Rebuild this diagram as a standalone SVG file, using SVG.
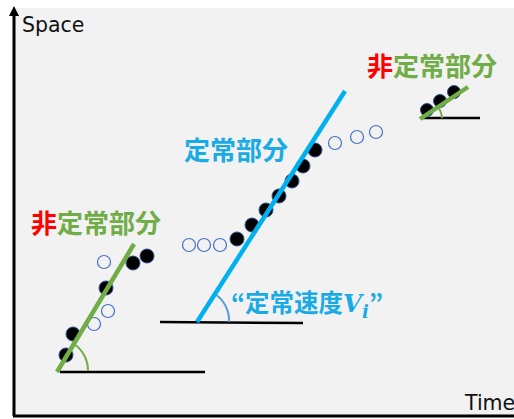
<svg xmlns="http://www.w3.org/2000/svg" width="514" height="419" viewBox="0 0 514 419">
<style>
.lbl{font-family:"Noto Sans CJK JP","Noto Sans",sans-serif;font-weight:bold;font-size:26px}
.ax{font-family:"DejaVu Sans",Verdana,sans-serif;font-size:20.5px;fill:#111}
.g{fill:#70ad47}.r{fill:#ff0000}.b{fill:#1aabe6}
.dot{fill:#000;stroke:#2f528f;stroke-width:1}
.open{fill:none;stroke:#4472c4;stroke-width:1.2}
.base{stroke:#000;stroke-width:2.5}
</style>
<rect x="15" y="8" width="499" height="407" fill="#f2f2f2"/>
<g id="axes">
<line x1="14" y1="416" x2="14" y2="14" stroke="#000" stroke-width="3"/>
<path d="M9,16 L14,6 L19,16 Z" fill="#000"/>
<line x1="13" y1="416" x2="514" y2="416" stroke="#000" stroke-width="3"/>
<text class="ax" x="22" y="32">Space</text>
<text class="ax" x="465" y="410">Time</text>
</g>
<g id="left">
<text class="lbl" x="31" y="233"><tspan class="r">非</tspan><tspan class="g">定常部分</tspan></text>
<line class="base" x1="60" y1="372" x2="205" y2="372"/>
<path d="M74,344 A32,32 0 0 1 88,371" fill="none" stroke="#70ad47" stroke-width="2"/>
<circle class="open" cx="104" cy="262" r="6.5"/>
<circle class="open" cx="94" cy="324" r="6.5"/>
<circle class="open" cx="108" cy="311" r="6.5"/>
<circle class="dot" cx="66" cy="355" r="7"/>
<circle class="dot" cx="73" cy="334" r="7"/>
<circle class="dot" cx="106" cy="288" r="7"/>
<circle class="dot" cx="133" cy="263" r="7"/>
<circle class="dot" cx="147" cy="256" r="7"/>
<line x1="57" y1="372" x2="134" y2="244" stroke="#70ad47" stroke-width="4.5"/>
</g>
<g id="middle">
<text class="lbl b" x="184" y="160">定常部分</text>
<line class="base" x1="160" y1="322" x2="303" y2="323"/>
<path d="M215,294 A32,32 0 0 1 229,322" fill="none" stroke="#5b9bd5" stroke-width="2"/>
<circle class="open" cx="189" cy="245" r="6.5"/>
<circle class="open" cx="204" cy="245" r="6.5"/>
<circle class="open" cx="220" cy="245" r="6.5"/>
<circle class="open" cx="335" cy="143" r="6.5"/>
<circle class="open" cx="357" cy="137" r="6.5"/>
<circle class="open" cx="376" cy="132" r="6.5"/>
<circle class="dot" cx="237" cy="239" r="7"/>
<circle class="dot" cx="252" cy="225" r="7"/>
<circle class="dot" cx="266" cy="210" r="7"/>
<circle class="dot" cx="279" cy="196" r="7"/>
<circle class="dot" cx="292" cy="181" r="7"/>
<circle class="dot" cx="303" cy="166" r="7"/>
<circle class="dot" cx="315" cy="150" r="7"/>
<line x1="197" y1="322" x2="345" y2="91" stroke="#00b0f0" stroke-width="4.5"/>
<text class="b" x="231" y="312" style="font-family:'Noto Sans CJK JP',sans-serif;font-weight:bold;font-size:24.5px">“定常速度<tspan style="font-family:'DejaVu Serif',serif;font-style:italic">V</tspan><tspan style="font-family:'DejaVu Serif',serif;font-style:italic;font-size:18px" dy="6">i</tspan><tspan dy="-6">”</tspan></text>
</g>
<g id="right">
<text class="lbl" x="367" y="76"><tspan class="r">非</tspan><tspan class="g">定常部分</tspan></text>
<line class="base" x1="421" y1="118" x2="480" y2="118"/>
<path d="M438,107 A20,20 0 0 1 442,118" fill="none" stroke="#70ad47" stroke-width="2"/>
<circle class="dot" cx="427" cy="110" r="6.5"/>
<circle class="dot" cx="440" cy="101" r="6.5"/>
<circle class="dot" cx="454" cy="92" r="6.5"/>
<line x1="420" y1="119" x2="468" y2="87" stroke="#70ad47" stroke-width="4.5"/>
</g>
</svg>
